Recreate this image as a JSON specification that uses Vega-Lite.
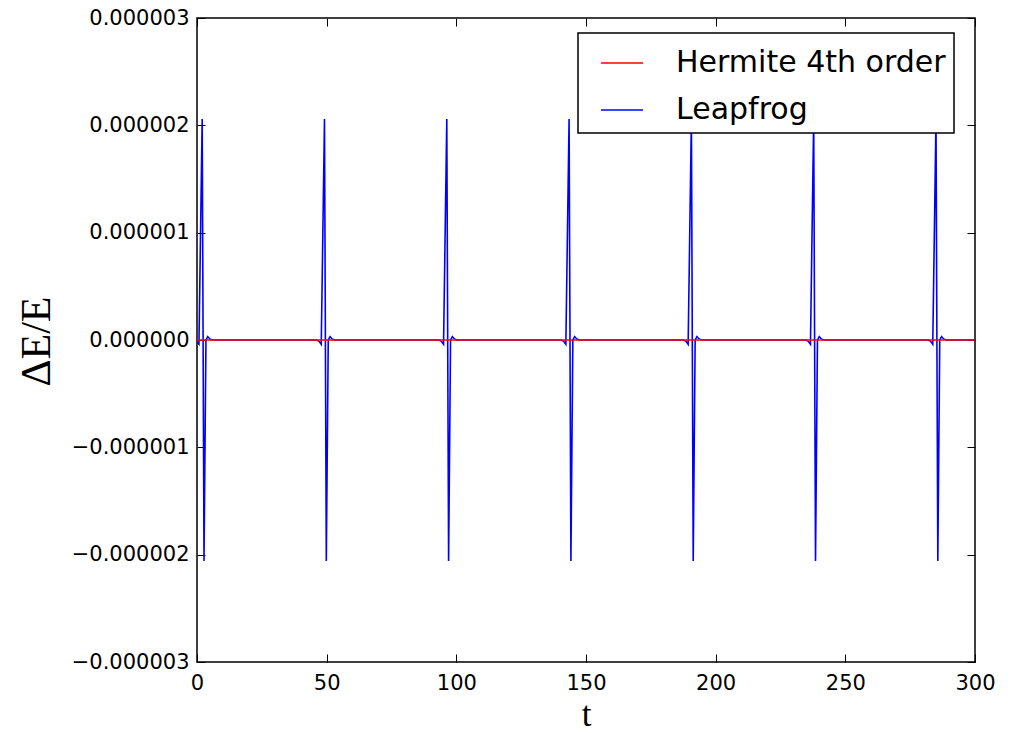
{
  "$schema": "https://vega.github.io/schema/vega-lite/v6.json",
  "autosize": "none",
  "width": 778,
  "height": 644,
  "padding": {"left": 197, "top": 18, "right": 40, "bottom": 71},
  "background": "white",
  "datasets": {
    "leap": [
      {"t": 0, "dE": -2e-8, "series": "Leapfrog"},
      {"t": 0.75, "dE": -4e-8, "series": "Leapfrog"},
      {"t": 2.0, "dE": 2.06e-6, "series": "Leapfrog"},
      {"t": 2.7, "dE": -2.06e-6, "series": "Leapfrog"},
      {"t": 3.45, "dE": 0, "series": "Leapfrog"},
      {"t": 4.15, "dE": 3.2e-8, "series": "Leapfrog"},
      {"t": 4.95, "dE": 1e-8, "series": "Leapfrog"},
      {"t": 5.95, "dE": 0, "series": "Leapfrog"},
      {"t": 46.01, "dE": 0, "series": "Leapfrog"},
      {"t": 47.01, "dE": -1e-8, "series": "Leapfrog"},
      {"t": 47.91, "dE": -4e-8, "series": "Leapfrog"},
      {"t": 49.16, "dE": 2.06e-6, "series": "Leapfrog"},
      {"t": 49.86, "dE": -2.06e-6, "series": "Leapfrog"},
      {"t": 50.61, "dE": 0, "series": "Leapfrog"},
      {"t": 51.31, "dE": 3.2e-8, "series": "Leapfrog"},
      {"t": 52.11, "dE": 1e-8, "series": "Leapfrog"},
      {"t": 53.11, "dE": 0, "series": "Leapfrog"},
      {"t": 93.17, "dE": 0, "series": "Leapfrog"},
      {"t": 94.17, "dE": -1e-8, "series": "Leapfrog"},
      {"t": 95.07, "dE": -4e-8, "series": "Leapfrog"},
      {"t": 96.32, "dE": 2.06e-6, "series": "Leapfrog"},
      {"t": 97.02, "dE": -2.06e-6, "series": "Leapfrog"},
      {"t": 97.77, "dE": 0, "series": "Leapfrog"},
      {"t": 98.47, "dE": 3.2e-8, "series": "Leapfrog"},
      {"t": 99.27, "dE": 1e-8, "series": "Leapfrog"},
      {"t": 100.27, "dE": 0, "series": "Leapfrog"},
      {"t": 140.33, "dE": 0, "series": "Leapfrog"},
      {"t": 141.33, "dE": -1e-8, "series": "Leapfrog"},
      {"t": 142.23, "dE": -4e-8, "series": "Leapfrog"},
      {"t": 143.48, "dE": 2.06e-6, "series": "Leapfrog"},
      {"t": 144.18, "dE": -2.06e-6, "series": "Leapfrog"},
      {"t": 144.93, "dE": 0, "series": "Leapfrog"},
      {"t": 145.63, "dE": 3.2e-8, "series": "Leapfrog"},
      {"t": 146.43, "dE": 1e-8, "series": "Leapfrog"},
      {"t": 147.43, "dE": 0, "series": "Leapfrog"},
      {"t": 187.49, "dE": 0, "series": "Leapfrog"},
      {"t": 188.49, "dE": -1e-8, "series": "Leapfrog"},
      {"t": 189.39, "dE": -4e-8, "series": "Leapfrog"},
      {"t": 190.64, "dE": 2.06e-6, "series": "Leapfrog"},
      {"t": 191.34, "dE": -2.06e-6, "series": "Leapfrog"},
      {"t": 192.09, "dE": 0, "series": "Leapfrog"},
      {"t": 192.79, "dE": 3.2e-8, "series": "Leapfrog"},
      {"t": 193.59, "dE": 1e-8, "series": "Leapfrog"},
      {"t": 194.59, "dE": 0, "series": "Leapfrog"},
      {"t": 234.65, "dE": 0, "series": "Leapfrog"},
      {"t": 235.65, "dE": -1e-8, "series": "Leapfrog"},
      {"t": 236.55, "dE": -4e-8, "series": "Leapfrog"},
      {"t": 237.8, "dE": 2.06e-6, "series": "Leapfrog"},
      {"t": 238.5, "dE": -2.06e-6, "series": "Leapfrog"},
      {"t": 239.25, "dE": 0, "series": "Leapfrog"},
      {"t": 239.95, "dE": 3.2e-8, "series": "Leapfrog"},
      {"t": 240.75, "dE": 1e-8, "series": "Leapfrog"},
      {"t": 241.75, "dE": 0, "series": "Leapfrog"},
      {"t": 281.81, "dE": 0, "series": "Leapfrog"},
      {"t": 282.81, "dE": -1e-8, "series": "Leapfrog"},
      {"t": 283.71, "dE": -4e-8, "series": "Leapfrog"},
      {"t": 284.96, "dE": 2.06e-6, "series": "Leapfrog"},
      {"t": 285.66, "dE": -2.06e-6, "series": "Leapfrog"},
      {"t": 286.41, "dE": 0, "series": "Leapfrog"},
      {"t": 287.11, "dE": 3.2e-8, "series": "Leapfrog"},
      {"t": 287.91, "dE": 1e-8, "series": "Leapfrog"},
      {"t": 288.91, "dE": 0, "series": "Leapfrog"},
      {"t": 300, "dE": 0, "series": "Leapfrog"}
    ],
    "herm": [
      {"t": 0, "dE": 0, "series": "Hermite 4th order"},
      {"t": 300, "dE": 0, "series": "Hermite 4th order"}
    ]
  },
  "layer": [
    {
      "encoding": {
        "x": {"field": "t", "type": "quantitative", "title": "t",
          "scale": {"domain": [0, 300], "nice": false, "zero": false},
          "axis": {"orient": "bottom", "values": [0, 50, 100, 150, 200, 250, 300], "format": "d", "labelFlush": false, "labelPadding": 18,
            "titleX": 389, "titleY": 63, "titleFont": "Liberation Serif", "titleFontSize": 35, "titleBaseline": "alphabetic", "titleAlign": "center"}},
        "y": {"field": "dE", "type": "quantitative", "title": "ΔE/E",
          "scale": {"domain": [-3e-6, 3e-6], "nice": false, "zero": false},
          "axis": {"orient": "left", "values": [-3e-6, -2e-6, -1e-6, 0, 1e-6, 2e-6, 3e-6], "format": ".6f", "labelFlush": false,
            "titleX": -161, "titleY": 323, "titleAngle": -90, "titleFont": "Liberation Serif", "titleFontSize": 42, "titleBaseline": "middle", "titleAlign": "center"}},
        "color": {"field": "series", "type": "nominal",
          "scale": {"domain": ["Hermite 4th order", "Leapfrog"], "range": ["#ff0000", "#0000ff"]},
          "legend": {"title": null}}
      },
      "layer": [
        {"data": {"name": "leap"}, "mark": {"type": "line", "strokeWidth": 1.6, "clip": true}},
        {"data": {"name": "herm"}, "mark": {"type": "line", "strokeWidth": 1.6, "clip": true}}
      ]
    },
    {
      "data": {"name": "herm"},
      "mark": {"type": "line", "opacity": 0},
      "encoding": {
        "x": {"field": "t", "type": "quantitative",
          "scale": {"domain": [0, 300], "nice": false, "zero": false},
          "axis": {"orient": "top", "values": [0, 50, 100, 150, 200, 250, 300], "labels": false, "title": null}},
        "y": {"field": "dE", "type": "quantitative",
          "scale": {"domain": [-3e-6, 3e-6], "nice": false, "zero": false},
          "axis": {"orient": "right", "values": [-3e-6, -2e-6, -1e-6, 0, 1e-6, 2e-6, 3e-6], "labels": false, "title": null}}
      }
    }
  ],
  "resolve": {"scale": {"x": "independent", "y": "independent"}, "axis": {"x": "independent", "y": "independent"}},
  "config": {
    "view": {"stroke": "black", "strokeWidth": 1.5},
    "axis": {
      "domain": false, "grid": false, "tickColor": "black", "tickSize": -8, "tickWidth": 1,
      "labelColor": "black", "labelFont": "DejaVu Sans", "labelFontSize": 21, "labelPadding": 16,
      "titleFont": "DejaVu Serif", "titleFontWeight": "normal", "titleColor": "black"
    },
    "legend": {
      "orient": "none", "legendX": 381, "legendY": 15,
      "fillColor": "white", "strokeColor": "black", "strokeWidth": 1.5, "padding": 8,
      "symbolType": "stroke", "symbolSize": 1764, "symbolStrokeWidth": 1.6, "symbolOffset": 14,
      "labelFont": "DejaVu Sans", "labelFontSize": 30, "labelColor": "black", "labelOffset": 32, "labelLimit": 500,
      "rowPadding": 10, "cornerRadius": 0
    }
  }
}
